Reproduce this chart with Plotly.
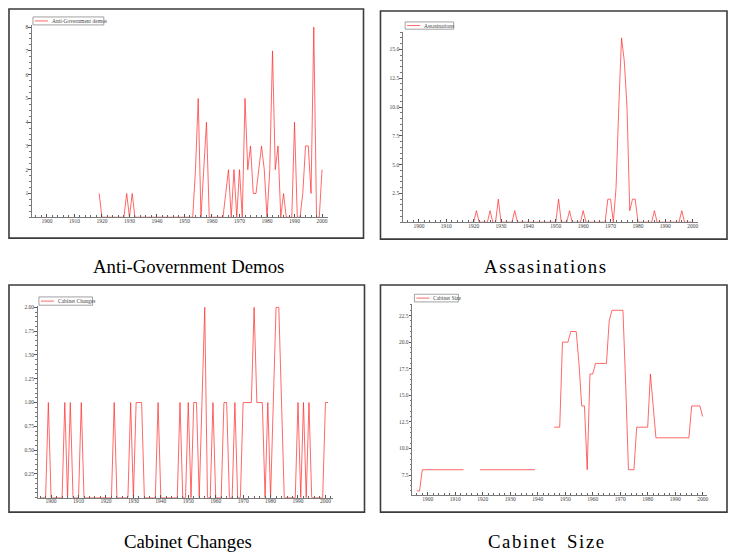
import plotly.graph_objects as go

W, H = 729, 555

# ---------------- data ----------------
demo_years = list(range(1919, 2001))
demo_counts = [
    1, 0, 0, 0, 0, 0, 0, 0, 0, 0,      # 1919-1928
    1, 0, 1, 0, 0, 0, 0, 0, 0, 0,      # 1929-1938
    0, 0, 0, 0, 0, 0, 0, 0, 0, 0,      # 1939-1948
    0, 0, 0, 0, 0, 2, 5, 0, 2, 4,      # 1949-1958
    0, 0, 0, 0, 0, 0, 1, 2, 0, 2,      # 1959-1968
    0, 2, 0, 5, 2, 3, 1, 1, 2, 3,      # 1969-1978
    2, 0, 2, 7, 2, 3, 0, 1, 0, 0,      # 1979-1988
    0, 4, 0, 0, 1, 3, 3, 1, 8, 0,      # 1989-1998
    0, 2,                              # 1999-2000
]

assas_years = list(range(1919, 2001))
assas_counts = [
    0, 0, 1, 0, 0, 0, 0, 1, 0, 0,      # 1919-1928
    2, 0, 0, 0, 0, 0, 1, 0, 0, 0,      # 1929-1938
    0, 0, 0, 0, 0, 0, 0, 0, 0, 0,      # 1939-1948
    0, 0, 2, 0, 0, 0, 1, 0, 0, 0,      # 1949-1958
    0, 1, 0, 0, 0, 0, 0, 0, 0, 0,      # 1959-1968
    2, 2, 0, 3, 10, 16, 14, 10, 1, 2,  # 1969-1978
    2, 0, 0, 0, 0, 0, 0, 1, 0, 0,      # 1979-1988
    0, 0, 0, 0, 0, 0, 0, 1, 0, 0,      # 1989-1998
    0, 0,                              # 1999-2000
]

cabchg_years = list(range(1896, 2002))
cabchg_counts = [
    0, 0, 0, 1, 0, 0, 0, 0, 0, 1,      # 1896-1905
    0, 1, 0, 0, 0, 1, 0, 0, 0, 0,      # 1906-1915
    0, 0, 0, 0, 0, 0, 0, 1, 0, 0,      # 1916-1925
    0, 0, 0, 1, 0, 1, 1, 1, 0, 0,      # 1926-1935
    0, 0, 0, 1, 0, 0, 0, 0, 0, 0,      # 1936-1945
    0, 1, 0, 0, 1, 0, 1, 1, 0, 1,      # 1946-1955
    2, 0, 0, 1, 0, 0, 0, 1, 1, 0,      # 1956-1965
    0, 1, 0, 0, 1, 1, 1, 1, 2, 1,      # 1966-1975
    1, 1, 0, 1, 0, 1, 2, 2, 1, 0,      # 1976-1985
    0, 0, 0, 0, 1, 0, 1, 0, 1, 0,      # 1986-1995
    0, 0, 0, 0, 1, 1,                  # 1996-2001
]

cabsize_years = list(range(1896, 2001))
cabsize_values = [
    6, 6, 8, 8, 8, 8, 8, 8, 8, 8,                          # 1896-1905
    8, 8, 8, 8, 8, 8, 8, 8, None, None,                    # 1906-1915
    None, None, None, 8, 8, 8, 8, 8, 8, 8,                 # 1916-1925
    8, 8, 8, 8, 8, 8, 8, 8, 8, 8,                          # 1926-1935
    8, 8, 8, 8, None, None, None, None, None, None,        # 1936-1945
    12, 12, 12, 20, 20, 20, 21, 21, 21, 18,                # 1946-1955
    14, 14, 8, 17, 17, 18, 18, 18, 18, 18,                 # 1956-1965
    22, 23, 23, 23, 23, 23, 16, 8, 8, 8,                   # 1966-1975
    12, 12, 12, 12, 12, 17, 14, 11, 11, 11,                # 1976-1985
    11, 11, 11, 11, 11, 11, 11, 11, 11, 11,                # 1986-1995
    14, 14, 14, 14, 13,                                    # 1996-2000
]

series_names = ["Anti-Government demos", "Assasinations", "Cabinet Changes", "Cabinet Size"]
captions = ["Anti-Government Demos", "Assasinations", "Cabinet Changes", "Cabinet Size"]

demo_ticks = [1, 2, 3, 4, 5, 6, 7, 8]
assas_ticks = [2.5, 5.0, 7.5, 10.0, 12.5, 15.0]
cabchg_ticks = [0.25, 0.50, 0.75, 1.00, 1.25, 1.50, 1.75, 2.00]
cabsize_ticks = [7.5, 10.0, 12.5, 15.0, 17.5, 20.0, 22.5]
year_ticks = [1900, 1910, 1920, 1930, 1940, 1950, 1960, 1970, 1980, 1990, 2000]

# ---------------- layout of the four panels (pixel geometry) ----------------
panels = [
    dict(x=demo_years, y=demo_counts, yticks=demo_ticks, fmt="{:d}",
         plot=(32, 328, 216, 23.3), xrange=(1894.57, 2002.0), yrange=(0, 8.08), yminor=0.25,
         frame=(9, 7, 364, 237), legend=(33, 15, 104, 23),
         caption=(188.5, 265), tracking=0, wordgap=1),
    dict(x=assas_years, y=assas_counts, yticks=assas_ticks, fmt="{:.1f}",
         plot=(403.3, 699.3, 221, 30), xrange=(1894.1, 2002.05), yrange=(0, 16.52), yminor=0.5,
         frame=(381, 9, 728, 238), legend=(405.7, 20, 454.3, 27.3),
         caption=(546, 265), tracking=1, wordgap=1),
    dict(x=cabchg_years, y=cabchg_counts, yticks=cabchg_ticks, fmt="{:.2f}",
         plot=(37.7, 333.3, 497.5, 305), xrange=(1895.1, 2002.7), yrange=(0, 2.015), yminor=0.05,
         frame=(9, 284, 365, 512), legend=(39, 296, 92.7, 304.3),
         caption=(188.5, 541), tracking=0, wordgap=1),
    dict(x=cabsize_years, y=cabsize_values, yticks=cabsize_ticks, fmt="{:.1f}",
         plot=(412.7, 708.3, 495, 303.3), xrange=(1894.3, 2001.7), yrange=(5.6, 23.57), yminor=0.5,
         frame=(381, 284, 728, 512), legend=(415, 293.3, 459, 301),
         caption=(546.5, 541), tracking=1, wordgap=3),
]


def px(x):
    return x / W


def py(y):
    return 1 - y / H


def spaced(text, tracking, wordgap):
    """Widen a caption with hair spaces between letters and extra space between words."""
    words = text.split(" ")
    if tracking:
        words = ["\u200a".join(w) for w in words]
    return ("\u2009" * wordgap).join(words) if wordgap > 1 else " ".join(words)


LINE_COLOR = "rgba(255,45,45,0.9)"
TICK_FONT = dict(family="Liberation Serif", size=5.5, color="#444")
AXIS_COLOR = "#7a7a7a"

fig = go.Figure()
layout = dict(
    width=W, height=H, margin=dict(l=0, r=0, t=0, b=0),
    paper_bgcolor="white", plot_bgcolor="white", showlegend=False,
)
shapes, annotations = [], []

for i, p in enumerate(panels):
    n = "" if i == 0 else str(i + 1)
    x0, x1, yb, yt = p["plot"]
    fig.add_trace(go.Scatter(
        x=p["x"], y=p["y"], mode="lines", name=series_names[i],
        line=dict(color=LINE_COLOR, width=0.8), connectgaps=False,
        xaxis="x" + n, yaxis="y" + n, hoverinfo="x+y",
    ))
    layout["xaxis" + n] = dict(
        domain=[px(x0), px(x1)], anchor="y" + n, range=list(p["xrange"]),
        tickmode="array", tickvals=year_ticks, ticktext=[str(v) for v in year_ticks],
        ticks="inside", ticklen=3, tickwidth=0.8, tickcolor="#555",
        minor=dict(dtick=2, tick0=1900, ticks="inside", ticklen=1.8, tickwidth=0.7, tickcolor="#666"),
        showline=True, linecolor=AXIS_COLOR, linewidth=1, ticklabelstandoff=-2,
        showgrid=False, zeroline=False, tickfont=TICK_FONT, fixedrange=True,
    )
    layout["yaxis" + n] = dict(
        domain=[py(yb), py(yt)], anchor="x" + n, range=list(p["yrange"]),
        tickmode="array", tickvals=p["yticks"], ticktext=[p["fmt"].format(v) for v in p["yticks"]],
        ticks="outside", ticklen=2.5, tickwidth=0.8, tickcolor="#555",
        minor=dict(dtick=p["yminor"], tick0=0, ticks="outside", ticklen=1.5, tickwidth=0.6, tickcolor="#777"),
        showline=True, linecolor=AXIS_COLOR, linewidth=1, ticklabelstandoff=-1,
        showgrid=False, zeroline=False, tickfont=TICK_FONT, fixedrange=True,
    )

    # panel frame
    fx0, fy0, fx1, fy1 = p["frame"]
    shapes.append(dict(type="rect", xref="paper", yref="paper",
                       x0=px(fx0), x1=px(fx1), y0=py(fy1), y1=py(fy0),
                       line=dict(color="#3c3c3c", width=1.6), fillcolor="rgba(0,0,0,0)"))

    # legend box
    lx0, ly0, lx1, ly1 = p["legend"]
    ym = (ly0 + ly1) / 2
    shapes.append(dict(type="rect", xref="paper", yref="paper",
                       x0=px(lx0), x1=px(lx1), y0=py(ly1), y1=py(ly0),
                       line=dict(color="#8a8a8a", width=0.8), fillcolor="white"))
    shapes.append(dict(type="line", xref="paper", yref="paper",
                       x0=px(lx0 + 2), x1=px(lx0 + 15), y0=py(ym), y1=py(ym),
                       line=dict(color=LINE_COLOR, width=0.8)))
    annotations.append(dict(text=series_names[i], xref="paper", yref="paper",
                            x=px(lx0 + 17), y=py(ym), xanchor="left", yanchor="middle",
                            showarrow=False, font=dict(family="Liberation Serif", size=5.5, color="#444")))

    # caption beneath the panel
    cx, cy = p["caption"]
    annotations.append(dict(text=spaced(captions[i], p["tracking"], p["wordgap"]),
                            xref="paper", yref="paper",
                            x=px(cx), y=py(cy), xanchor="center", yanchor="middle",
                            showarrow=False, font=dict(family="Liberation Serif", size=18.8, color="black")))

layout["shapes"] = shapes
layout["annotations"] = annotations
fig.update_layout(**layout)

fig.write_html("out.html")
